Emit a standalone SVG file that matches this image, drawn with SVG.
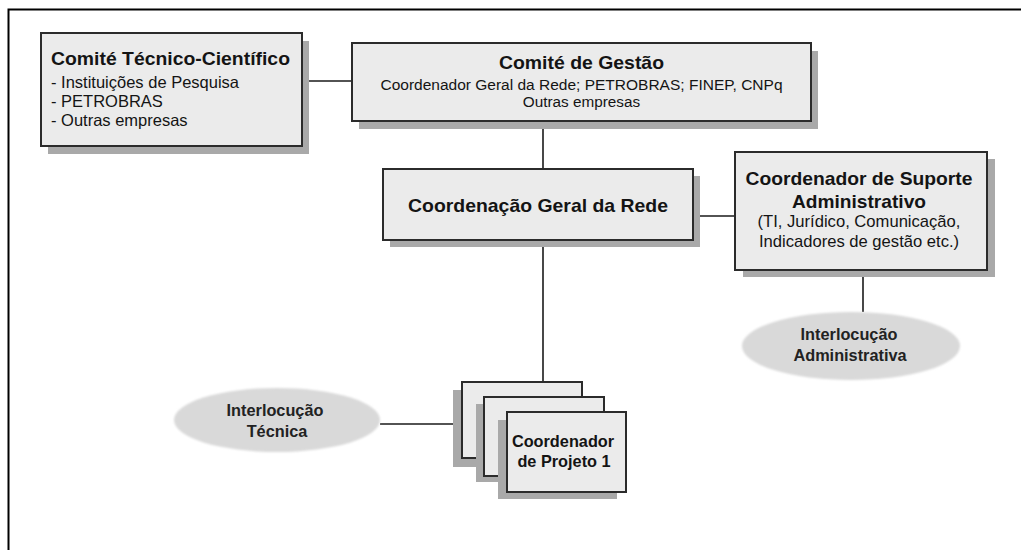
<svg xmlns="http://www.w3.org/2000/svg" width="1021" height="550" viewBox="0 0 1021 550">
<style>
.shadow{fill:#a9a9a9}
.box{fill:#ebebeb;stroke:#2b2b2b;stroke-width:2}
.ell{fill:#d9d9d9}
.t{font-family:"Liberation Sans",Arial,sans-serif;fill:#141414}
.b{font-weight:bold}
.c{text-anchor:middle}
.et{font-family:"Liberation Sans",Arial,sans-serif;font-weight:bold;fill:#222;text-anchor:middle;font-size:16.3px}
.conn{stroke:#1a1a1a;stroke-width:1.6;fill:none}
.frame{stroke:#000;stroke-width:2;fill:none}
</style>
<defs>
<filter id="soft" x="-10%" y="-20%" width="120%" height="140%"><feGaussianBlur stdDeviation="1.2"/></filter>
</defs>
<rect width="1021" height="550" fill="#fff"/>
<path class="frame" d="M8.5,550 V9.5 H1021"/>
<g id="connectors">
<line class="conn" x1="302" y1="81" x2="352" y2="81"/>
<line class="conn" x1="543" y1="121" x2="543" y2="169"/>
<line class="conn" x1="543" y1="240" x2="543" y2="382"/>
<line class="conn" x1="693" y1="216" x2="735" y2="216"/>
<line class="conn" x1="863" y1="270" x2="863" y2="312"/>
<line class="conn" x1="380" y1="424" x2="455" y2="424"/>
</g>
<g id="comite-tecnico">
<rect class="shadow" x="48" y="41" width="261" height="113"/>
<rect class="box" x="41" y="33" width="261" height="113"/>
<text class="t b" x="51" y="65" font-size="18.5px" textLength="239" lengthAdjust="spacingAndGlyphs">Comité Técnico-Científico</text>
<text class="t" x="51" y="88" font-size="16.5px">- Instituições de Pesquisa</text>
<text class="t" x="51" y="107" font-size="16.5px">- PETROBRAS</text>
<text class="t" x="51" y="126" font-size="16.5px">- Outras empresas</text>
</g>
<g id="comite-gestao">
<rect class="shadow" x="359" y="51" width="459" height="78"/>
<rect class="box" x="352" y="43" width="459" height="78"/>
<text class="t b c" x="581.5" y="69" font-size="18.5px" textLength="165" lengthAdjust="spacingAndGlyphs">Comité de Gestão</text>
<text class="t c" x="581.5" y="89.5" font-size="15.5px">Coordenador Geral da Rede; PETROBRAS; FINEP, CNPq</text>
<text class="t c" x="581.5" y="107" font-size="15.3px">Outras empresas</text>
</g>
<g id="coordenacao-geral">
<rect class="shadow" x="390" y="176" width="310" height="71"/>
<rect class="box" x="383" y="169" width="310" height="71"/>
<text class="t b c" x="538" y="211.5" font-size="18.5px" textLength="260" lengthAdjust="spacingAndGlyphs">Coordenação Geral da Rede</text>
</g>
<g id="suporte-administrativo">
<rect class="shadow" x="743" y="159" width="252" height="118"/>
<rect class="box" x="735" y="152" width="252" height="118"/>
<text class="t b c" x="859" y="185" font-size="18.5px" textLength="227" lengthAdjust="spacingAndGlyphs">Coordenador de Suporte</text>
<text class="t b c" x="859" y="208" font-size="18.5px" textLength="134" lengthAdjust="spacingAndGlyphs">Administrativo</text>
<text class="t c" x="859" y="227" font-size="16.6px">(TI, Jurídico, Comunicação,</text>
<text class="t c" x="859" y="247" font-size="16.6px">Indicadores de gestão etc.)</text>
</g>
<g id="interlocucao-administrativa">
<ellipse class="ell" cx="851" cy="346" rx="109" ry="34" filter="url(#soft)"/>
<text class="et" x="849" y="340">Interlocução</text>
<text class="et" x="850" y="361">Administrativa</text>
</g>
<g id="interlocucao-tecnica">
<ellipse class="ell" cx="277" cy="420" rx="103" ry="32" filter="url(#soft)"/>
<text class="et" x="275" y="416">Interlocução</text>
<text class="et" x="277" y="437">Técnica</text>
</g>
<g id="coordenador-projeto">
<rect class="shadow" x="453" y="390" width="120" height="77"/>
<rect class="box" x="462" y="382" width="120" height="76"/>
<rect class="shadow" x="476" y="404" width="120" height="78"/>
<rect class="box" x="484" y="397" width="120" height="79"/>
<rect class="shadow" x="498" y="420" width="119" height="79"/>
<rect class="box" x="507" y="412" width="119" height="80"/>
<text class="t b c" x="563" y="447" font-size="16.3px">Coordenador</text>
<text class="t b c" x="564" y="467" font-size="16.3px">de Projeto 1</text>
</g>
</svg>
